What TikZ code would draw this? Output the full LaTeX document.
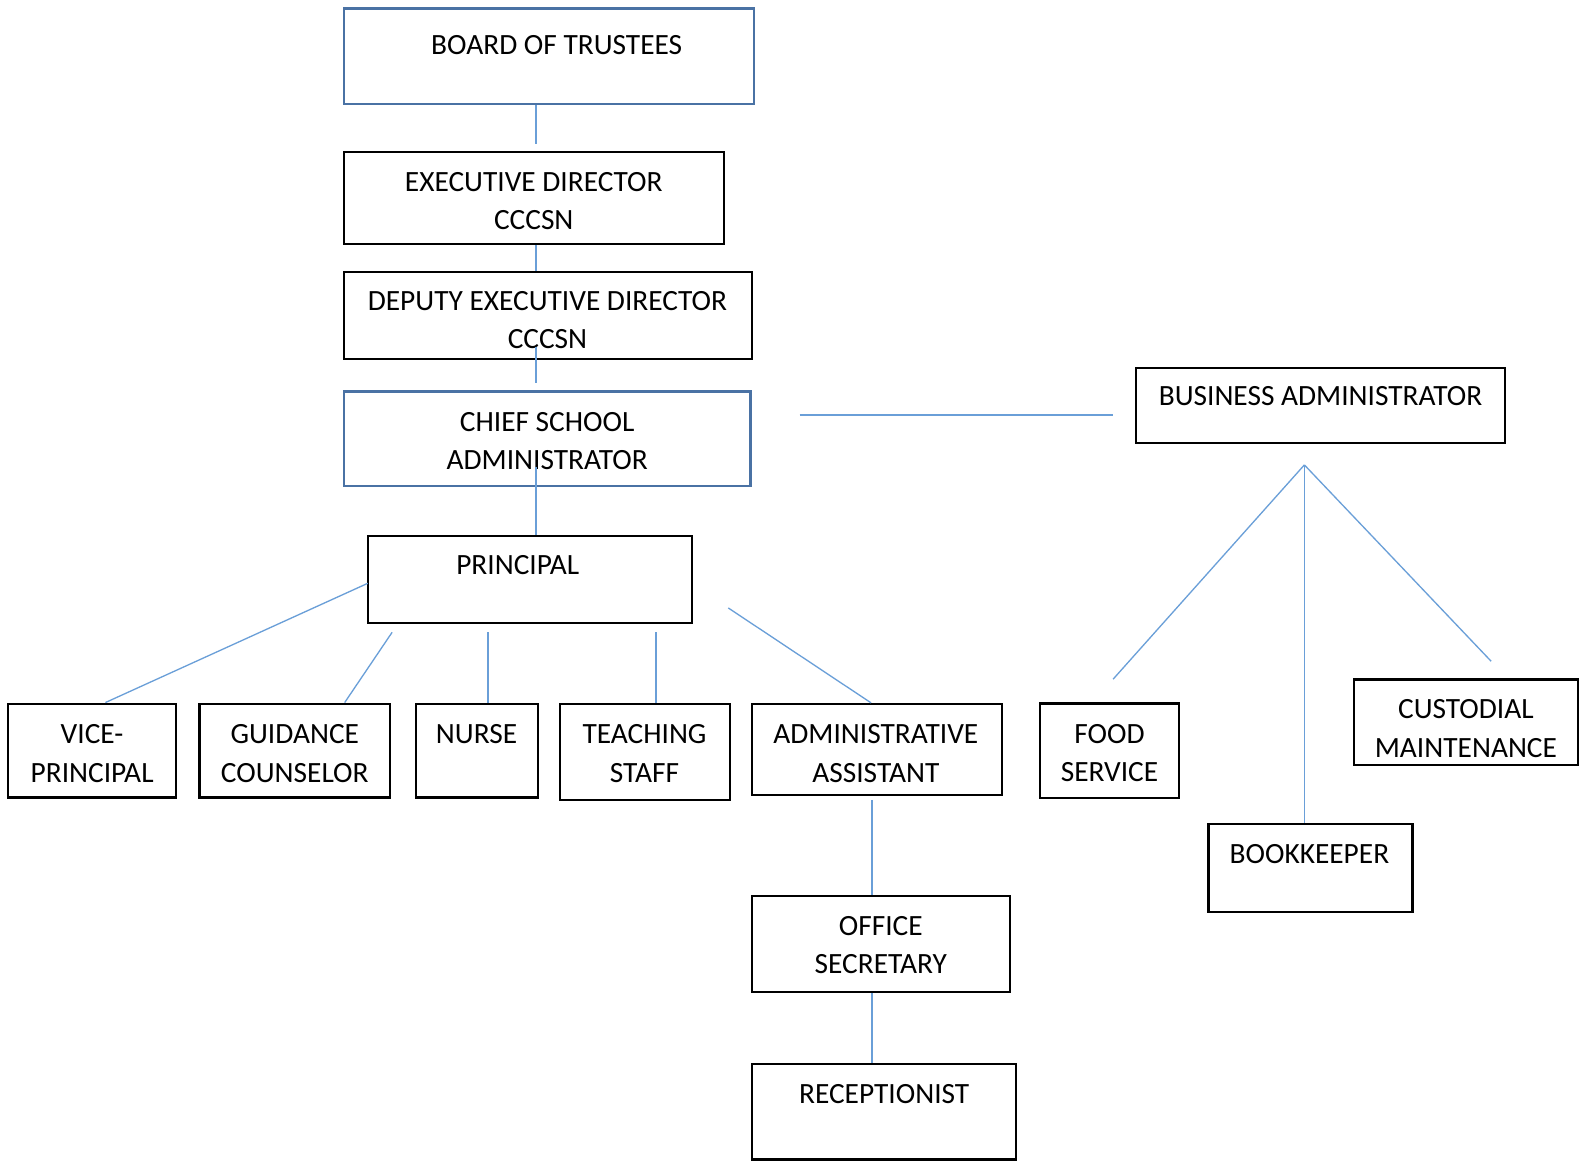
\documentclass[tikz,border=0pt]{standalone}
\usepackage{fontspec}
\setmainfont{Carlito}
\usetikzlibrary{fit}
\definecolor{connc}{HTML}{6A9FD8}
\definecolor{bluebox}{HTML}{4A72A4}
\begin{document}
\begin{tikzpicture}[x=1pt,y=-1pt,
  box/.style={draw=black, line width=2.2pt, inner sep=0pt},
  bbox/.style={draw=bluebox, line width=2.8pt, inner sep=0pt},
  lbl/.style={align=center, inner sep=0pt, font=\fontsize{29.1}{38.2}\selectfont},
  conn/.style={draw=connc, line width=1.7pt},
  diag/.style={draw=connc, line width=1.3pt}]
\useasboundingbox[fill=white] (0,0) rectangle (1568,1151);

% boxes
\node[bbox, fit={(340.7,8.2)(746.9,103)}] (board) {};
\node[box, fit={(340.7,150.9)(717.5,241.4)}] (exec) {};
\node[box, fit={(340.7,269.4)(744.9,355.9)}] (deputy) {};
\node[bbox, fit={(340.7,388)(743.6,481.4)}] (chief) {};
\node[box, fit={(364.2,530.9)(685.4,617.4)}] (principal) {};
\node[box, fit={(8,697)(174.4,790)}] (vice) {};
\node[box, fit={(197.7,697)(386.3,790)}] (guid) {};
\node[box, fit={(412.1,697)(533.1,790)}] (nurse) {};
\node[box, fit={(554.7,697.5)(723.1,792.4)}] (teach) {};
\node[box, fit={(744.9,697.3)(992.5,787.5)}] (adminasst) {};
\node[box, fit={(744.5,887.5)(1000.4,982.6)}] (office) {};
\node[box, fit={(744.5,1053.9)(1006.4,1148.6)}] (recept) {};
\node[box, fit={(1125.5,364.7)(1490.5,439)}] (business) {};
\node[box, fit={(1030,696.8)(1167.5,790.2)}] (food) {};
\node[box, fit={(1197,815.8)(1399,903)}] (book) {};
\node[box, fit={(1341,673)(1563,758)}] (cust) {};

% texts
\node[lbl] (boardt) at (551.4,44.4) {BOARD OF TRUSTEES};
\node[lbl] (exect) at (528.7,199.35) {EXECUTIVE DIRECTOR\\CCCSN};
\node[lbl] (deputyt) at (542.3,317.2) {DEPUTY EXECUTIVE DIRECTOR\\CCCSN};
\node[lbl] (chieft) at (542,437) {CHIEF SCHOOL\\ADMINISTRATOR};
\node[lbl] (principalt) at (512.8,560.1) {PRINCIPAL};
\node[lbl] (vicet) at (91.2,746.2) {VICE-\\PRINCIPAL};
\node[lbl] (guidt) at (292,746.2) {GUIDANCE\\COUNSELOR};
\node[lbl] (nurset) at (472,727.5) {NURSE};
\node[lbl] (teacht) at (638.4,746.6) {TEACHING\\STAFF};
\node[lbl] (adminasstt) at (867.5,746.6) {ADMINISTRATIVE\\ASSISTANT};
\node[lbl] (officet) at (872.5,936) {OFFICE\\SECRETARY};
\node[lbl] (receptt) at (875.8,1083.8) {RECEPTIONIST};
\node[lbl] (businesst) at (1308,392.5) {BUSINESS ADMINISTRATOR};
\node[lbl] (foodt) at (1099,746) {FOOD\\SERVICE};
\node[lbl] (bookt) at (1297,845.7) {BOOKKEEPER};
\node[lbl] (custt) at (1452,721.8) {CUSTODIAL\\MAINTENANCE};

% free ends
\coordinate (c1) at (530.9,142.6);
\coordinate (c2) at (530.9,343.4);
\coordinate (c3) at (530.9,379.7);
\coordinate (c4) at (530.9,462.3);
\coordinate (pv) at (364.2,577.8);
\coordinate (pg) at (388.4,626.3);
\coordinate (pn) at (483.5,626.3);
\coordinate (pt) at (649.8,626.3);
\coordinate (pa) at (721.4,602.2);
\coordinate (ao) at (863.8,792.4);
\coordinate (cb1) at (792,411.2);
\coordinate (cb2) at (1102.5,411.2);
\coordinate (apex) at (1292,460.5);
\coordinate (fe) at (1102.5,672.8);
\coordinate (ce) at (1477,655);

% connectors
\draw[conn] (c1 |- board.south) -- (c1);
\draw[conn] (c1 |- exec.south) -- (c1 |- deputy.north);
\draw[conn] (c2) -- (c3);
\draw[conn] (c4) -- (c4 |- principal.north);
\draw[diag] (pv) -- (104.4,0 |- vice.north);
\draw[diag] (pg) -- (341.4,0 |- guid.north);
\draw[diag] (pn) -- (pn |- nurse.north);
\draw[diag] (pt) -- (pt |- teach.north);
\draw[diag] (pa) -- (862.8,0 |- adminasst.north);
\draw[conn] (ao) -- (ao |- office.north);
\draw[conn] (ao |- office.south) -- (ao |- recept.north);
\draw[conn, line width=1.9pt] (cb1) -- (cb2);
\draw[diag] (apex) -- (fe);
\draw[conn] (apex) -- (apex |- book.north);
\draw[diag] (apex) -- (ce);
\end{tikzpicture}
\end{document}
